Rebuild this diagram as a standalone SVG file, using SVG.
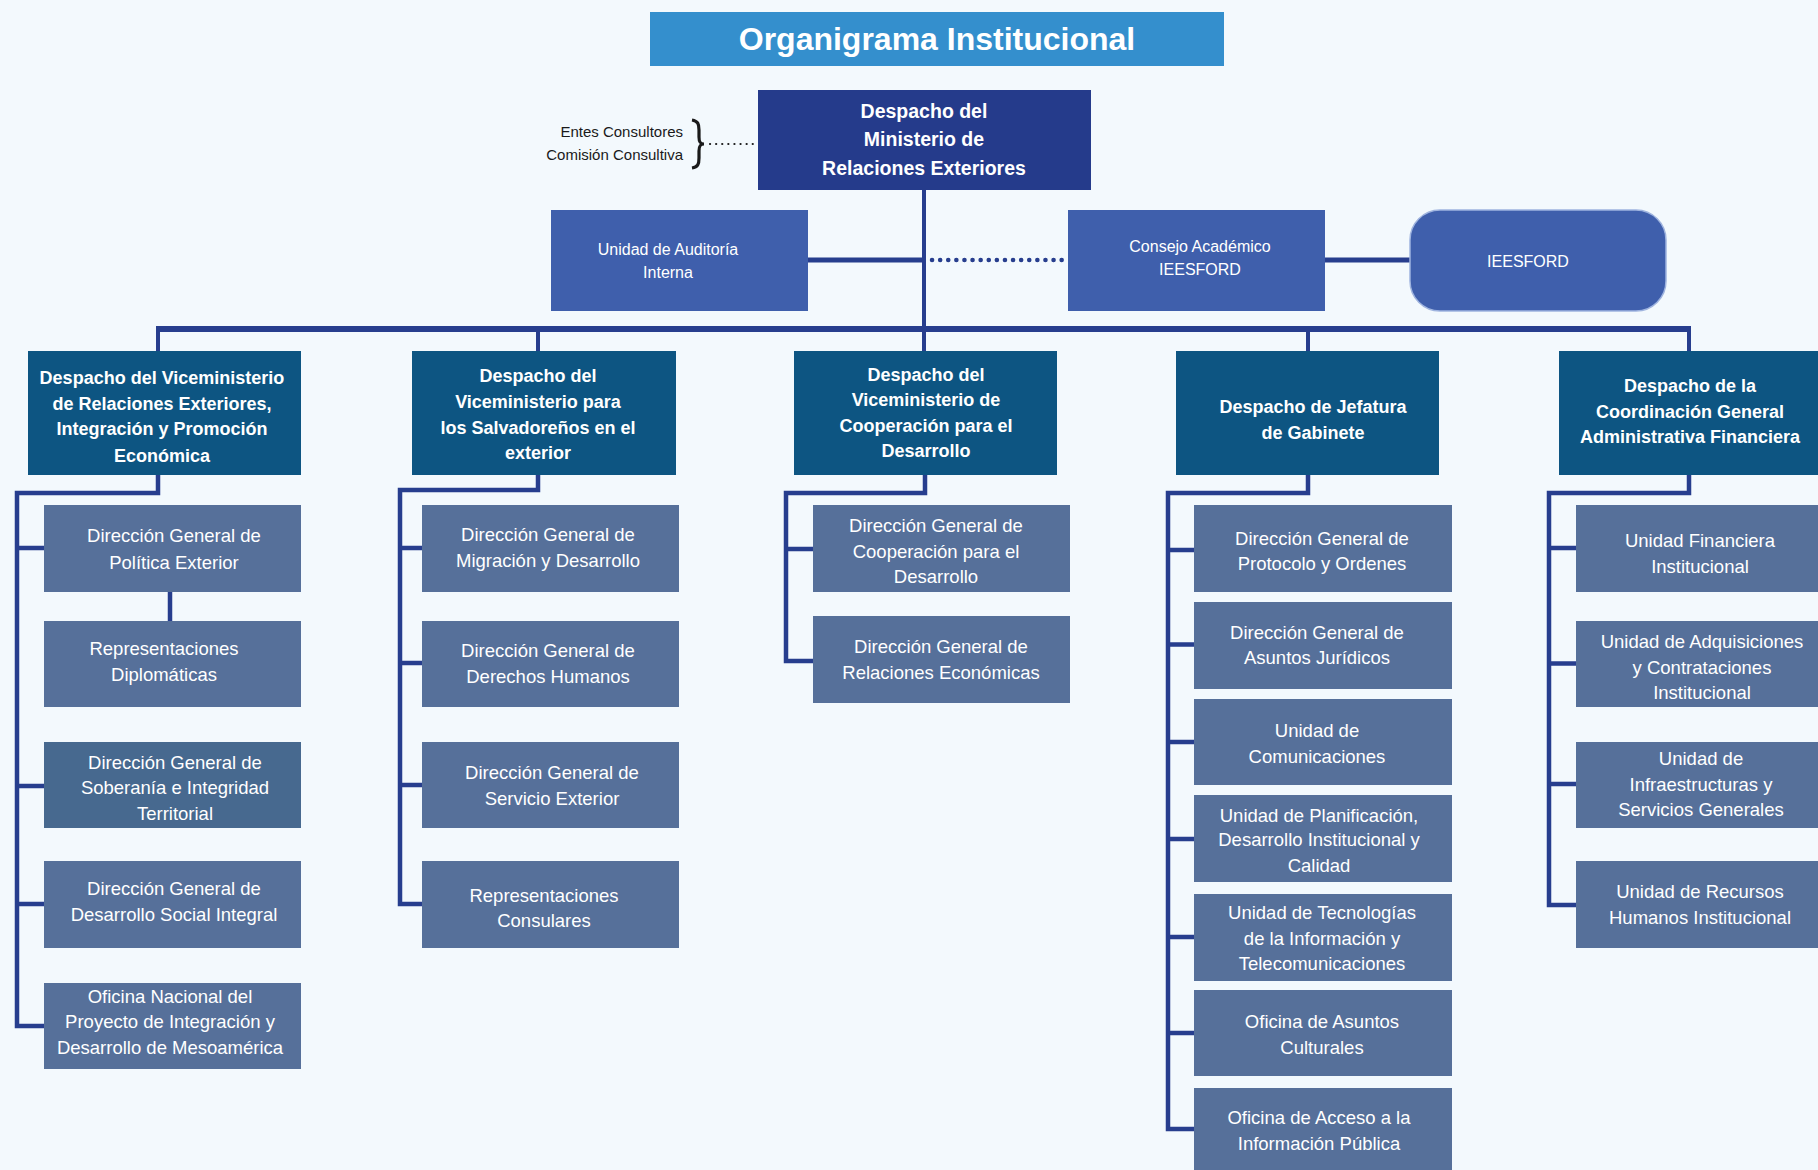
<svg xmlns="http://www.w3.org/2000/svg" width="1818" height="1170" viewBox="0 0 1818 1170">
<style>
text{font-family:"Liberation Sans",Arial,sans-serif;fill:#ffffff;text-anchor:middle}
.t{font-size:32px;font-weight:bold}
.top{font-size:19.5px;font-weight:bold}
.hd{font-size:18px;font-weight:bold}
.ch{font-size:18.5px}
.sm{font-size:16px}
.note{font-size:15px;fill:#1a1a1a;text-anchor:end}
.hdr{fill:#0d5582}
.child{fill:#56709a}
.unit{fill:#3f5fac}
.conn{stroke:#273e8e;fill:none;stroke-linejoin:miter}
</style>
<rect x="0" y="0" width="1818" height="1170" fill="#f3f9fd"/>

<g id="title">
<rect x="650" y="12" width="574" height="54" fill="#348fcd"/>
<text class="t" x="937" y="50">Organigrama Institucional</text>
</g>

<g id="connectors">
<path class="conn" stroke-width="4" d="M924 190 V351"/>
<path class="conn" stroke-width="5" d="M808 260 H924"/>
<path stroke="#273e8e" stroke-width="4.5" stroke-linecap="round" stroke-dasharray="0.1 8" fill="none" d="M932 260 H1064"/>
<path class="conn" stroke-width="5" d="M1325 260 H1410"/>
<path class="conn" stroke-width="6" d="M156 329 H1691"/>
<path class="conn" stroke-width="4" d="M158 329 V351 M538 329 V351 M1308 329 V351 M1689 329 V351"/>
<path stroke="#1a1a1a" stroke-width="2.2" stroke-linecap="round" stroke-dasharray="0.1 6" fill="none" d="M710 144 H754"/>
<path stroke="#1a1a1a" stroke-width="3.2" fill="none" d="M692 120 C698 121 699 124 699 130 V137 C699 142 700 144 704 144 C700 144 699 146 699 151 V158 C699 164 698 167 692 168"/>
<path class="conn" stroke-width="4.5" d="M158 475 V493 H17 V1026 H44 M17 548 H44 M17 786 H44 M17 904 H44"/>
<path class="conn" stroke-width="4.5" d="M170 592 V621"/>
<path class="conn" stroke-width="4.5" d="M538 475 V490 H400 V904 H422 M400 548 H422 M400 663 H422 M400 785 H422"/>
<path class="conn" stroke-width="4.5" d="M925 475 V493 H786 V661 H813 M786 549 H813"/>
<path class="conn" stroke-width="4.5" d="M1308 475 V493 H1168 V1129 H1194 M1168 550 H1194 M1168 644.5 H1194 M1168 742 H1194 M1168 839 H1194 M1168 937 H1194 M1168 1033 H1194"/>
<path class="conn" stroke-width="4.5" d="M1689 475 V493 H1549 V905 H1576 M1549 548 H1576 M1549 663.5 H1576 M1549 784 H1576"/>
</g>

<g id="notes">
<text class="note" x="683" y="137">Entes Consultores</text>
<text class="note" x="683" y="160">Comisión Consultiva</text>
</g>

<g id="ministro">
<rect x="758" y="90" width="333" height="100" fill="#253b8b"/>
<text class="top" x="924" y="118">Despacho del</text>
<text class="top" x="924" y="146">Ministerio de</text>
<text class="top" x="924" y="175">Relaciones Exteriores</text>
</g>

<g id="auditoria">
<rect class="unit" x="551" y="210" width="257" height="101"/>
<text class="sm" x="668" y="255">Unidad de Auditoría</text>
<text class="sm" x="668" y="278">Interna</text>
</g>

<g id="consejo">
<rect class="unit" x="1068" y="210" width="257" height="101"/>
<text class="sm" x="1200" y="252">Consejo Académico</text>
<text class="sm" x="1200" y="275">IEESFORD</text>
</g>

<g id="ieesford">
<rect class="unit" x="1410" y="210" width="256" height="101" rx="30" ry="30" stroke="#9fb4df" stroke-width="1.5"/>
<text class="sm" x="1528" y="267">IEESFORD</text>
</g>

<g id="vm1">
<rect class="hdr" x="28" y="351" width="273" height="124"/>
<text class="hd" x="162" y="384">Despacho del Viceministerio</text>
<text class="hd" x="162" y="410">de Relaciones Exteriores,</text>
<text class="hd" x="162" y="435">Integración y Promoción</text>
<text class="hd" x="162" y="462">Económica</text>
</g>

<g id="vm2">
<rect class="hdr" x="412" y="351" width="264" height="124"/>
<text class="hd" x="538" y="382">Despacho del</text>
<text class="hd" x="538" y="408">Viceministerio para</text>
<text class="hd" x="538" y="434">los Salvadoreños en el</text>
<text class="hd" x="538" y="459">exterior</text>
</g>

<g id="vm3">
<rect class="hdr" x="794" y="351" width="263" height="124"/>
<text class="hd" x="926" y="381">Despacho del</text>
<text class="hd" x="926" y="406">Viceministerio de</text>
<text class="hd" x="926" y="432">Cooperación para el</text>
<text class="hd" x="926" y="457">Desarrollo</text>
</g>

<g id="jefatura">
<rect class="hdr" x="1176" y="351" width="263" height="124"/>
<text class="hd" x="1313" y="413">Despacho de Jefatura</text>
<text class="hd" x="1313" y="439">de Gabinete</text>
</g>

<g id="coordinacion">
<rect class="hdr" x="1559" y="351" width="262" height="124"/>
<text class="hd" x="1690" y="392">Despacho de la</text>
<text class="hd" x="1690" y="418">Coordinación General</text>
<text class="hd" x="1690" y="443">Administrativa Financiera</text>
</g>

<g id="c1-politica">
<rect class="child" x="44" y="505" width="257" height="87"/>
<text class="ch" x="174" y="542">Dirección General de</text>
<text class="ch" x="174" y="568.5">Política Exterior</text>
</g>
<g id="c1-diplomaticas">
<rect class="child" x="44" y="621" width="257" height="86"/>
<text class="ch" x="164" y="654.5">Representaciones</text>
<text class="ch" x="164" y="681">Diplomáticas</text>
</g>
<g id="c1-soberania">
<rect x="44" y="742" width="257" height="86" fill="#47698f"/>
<text class="ch" x="175" y="768.5">Dirección General de</text>
<text class="ch" x="175" y="793.5">Soberanía e Integridad</text>
<text class="ch" x="175" y="819.5">Territorial</text>
</g>
<g id="c1-social">
<rect class="child" x="44" y="861" width="257" height="87"/>
<text class="ch" x="174" y="894.5">Dirección General de</text>
<text class="ch" x="174" y="920.5">Desarrollo Social Integral</text>
</g>
<g id="c1-oficina">
<rect class="child" x="44" y="983" width="257" height="86"/>
<text class="ch" x="170" y="1002.5">Oficina Nacional del</text>
<text class="ch" x="170" y="1027.5">Proyecto de Integración y</text>
<text class="ch" x="170" y="1053.5">Desarrollo de Mesoamérica</text>
</g>

<g id="c2-migracion">
<rect class="child" x="422" y="505" width="257" height="87"/>
<text class="ch" x="548" y="541">Dirección General de</text>
<text class="ch" x="548" y="566.5">Migración y Desarrollo</text>
</g>
<g id="c2-ddhh">
<rect class="child" x="422" y="621" width="257" height="86"/>
<text class="ch" x="548" y="656.5">Dirección General de</text>
<text class="ch" x="548" y="682.5">Derechos Humanos</text>
</g>
<g id="c2-servicio">
<rect class="child" x="422" y="742" width="257" height="86"/>
<text class="ch" x="552" y="778.5">Dirección General de</text>
<text class="ch" x="552" y="804.5">Servicio Exterior</text>
</g>
<g id="c2-consulares">
<rect class="child" x="422" y="861" width="257" height="87"/>
<text class="ch" x="544" y="901.5">Representaciones</text>
<text class="ch" x="544" y="927">Consulares</text>
</g>

<g id="c3-cooperacion">
<rect class="child" x="813" y="505" width="257" height="87"/>
<text class="ch" x="936" y="531.5">Dirección General de</text>
<text class="ch" x="936" y="557.5">Cooperación para el</text>
<text class="ch" x="936" y="582.5">Desarrollo</text>
</g>
<g id="c3-economicas">
<rect class="child" x="813" y="616" width="257" height="87"/>
<text class="ch" x="941" y="652.5">Dirección General de</text>
<text class="ch" x="941" y="678.5">Relaciones Económicas</text>
</g>

<g id="c4-protocolo">
<rect class="child" x="1194" y="505" width="258" height="87"/>
<text class="ch" x="1322" y="544.5">Dirección General de</text>
<text class="ch" x="1322" y="570">Protocolo y Ordenes</text>
</g>
<g id="c4-juridicos">
<rect class="child" x="1194" y="602" width="258" height="87"/>
<text class="ch" x="1317" y="638.5">Dirección General de</text>
<text class="ch" x="1317" y="663.5">Asuntos Jurídicos</text>
</g>
<g id="c4-comunicaciones">
<rect class="child" x="1194" y="699" width="258" height="86"/>
<text class="ch" x="1317" y="736.5">Unidad de</text>
<text class="ch" x="1317" y="762.5">Comunicaciones</text>
</g>
<g id="c4-planificacion">
<rect class="child" x="1194" y="795" width="258" height="87"/>
<text class="ch" x="1319" y="821.5">Unidad de Planificación,</text>
<text class="ch" x="1319" y="845.5">Desarrollo Institucional y</text>
<text class="ch" x="1319" y="871.5">Calidad</text>
</g>
<g id="c4-tecnologias">
<rect class="child" x="1194" y="894" width="258" height="87"/>
<text class="ch" x="1322" y="919">Unidad de Tecnologías</text>
<text class="ch" x="1322" y="944.5">de la Información y</text>
<text class="ch" x="1322" y="969.5">Telecomunicaciones</text>
</g>
<g id="c4-culturales">
<rect class="child" x="1194" y="990" width="258" height="86"/>
<text class="ch" x="1322" y="1027.5">Oficina de Asuntos</text>
<text class="ch" x="1322" y="1053.5">Culturales</text>
</g>
<g id="c4-acceso">
<rect class="child" x="1194" y="1088" width="258" height="90"/>
<text class="ch" x="1319" y="1124">Oficina de Acceso a la</text>
<text class="ch" x="1319" y="1149.5">Información Pública</text>
</g>

<g id="c5-financiera">
<rect class="child" x="1576" y="505" width="257" height="87"/>
<text class="ch" x="1700" y="546.5">Unidad Financiera</text>
<text class="ch" x="1700" y="572.5">Institucional</text>
</g>
<g id="c5-adquisiciones">
<rect class="child" x="1576" y="621" width="257" height="86"/>
<text class="ch" x="1702" y="647.5">Unidad de Adquisiciones</text>
<text class="ch" x="1702" y="673.5">y Contrataciones</text>
<text class="ch" x="1702" y="698.5">Institucional</text>
</g>
<g id="c5-infraestructuras">
<rect class="child" x="1576" y="742" width="257" height="86"/>
<text class="ch" x="1701" y="764.5">Unidad de</text>
<text class="ch" x="1701" y="790.5">Infraestructuras y</text>
<text class="ch" x="1701" y="815.5">Servicios Generales</text>
</g>
<g id="c5-rrhh">
<rect class="child" x="1576" y="861" width="257" height="87"/>
<text class="ch" x="1700" y="898">Unidad de Recursos</text>
<text class="ch" x="1700" y="923.5">Humanos Institucional</text>
</g>
</svg>
